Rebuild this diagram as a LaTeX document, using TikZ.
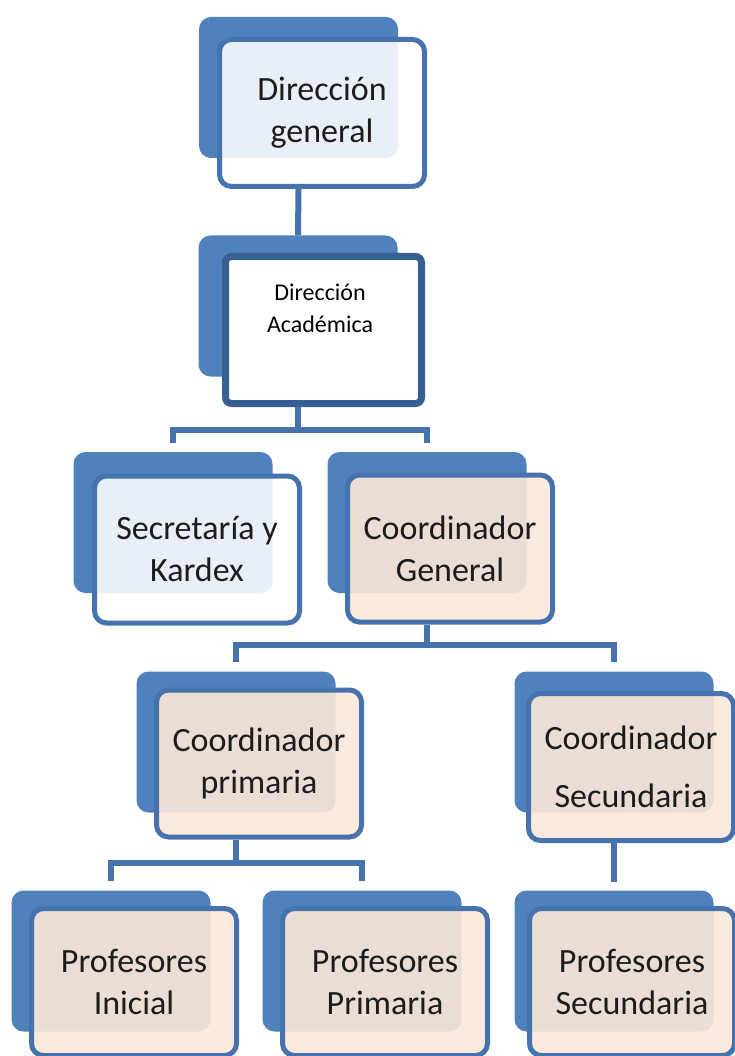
\documentclass[tikz,border=0pt]{standalone}
\usepackage{fontspec}
\setmainfont{Carlito}
\usetikzlibrary{calc}
\definecolor{orgblue}{RGB}{79,129,189}
\definecolor{orgline}{RGB}{70,115,174}
\definecolor{orgdark}{RGB}{54,95,146}
\definecolor{orgpeach}{RGB}{251,232,217}
\definecolor{orgtext}{RGB}{28,28,28}
\newcommand\orgfont{\fontsize{34}{42}\selectfont}
\newcommand\acadfont{\fontsize{24}{32}\selectfont}
\tikzset{
  tab/.style={rectangle,rounded corners=12pt,fill=orgblue,minimum width=199pt,minimum height=141pt,inner sep=0pt},
  front/.style={rectangle,rounded corners=12pt,draw=orgline,line width=5pt,fill=white,fill opacity=0.88,text opacity=1,minimum width=205pt,minimum height=147pt,inner sep=0pt,font=\orgfont,text=orgtext,align=center},
  warm/.style={front,fill=orgpeach,fill opacity=0.9},
  acad/.style={rectangle,rounded corners=6pt,draw=orgdark,line width=7pt,fill=white,minimum width=196pt,minimum height=147pt,inner sep=0pt},
  link/.style={draw=orgline,line width=6pt},
  bus/.style={link,shorten <=9pt,shorten >=9pt},
}
\begin{document}
\begin{tikzpicture}[x=1pt,y=-1pt]
  \useasboundingbox (0,0) rectangle (734,1056);
  % level 1
  \node[tab] (dgt) at (298.5,87.5) {};
  \node[front] (dg) at (322,113) {Dirección\\general};
  % level 2
  \node[tab] (dat) at (298,306) {};
  \node[acad] (da) at (323.5,330) {};
  \node[font=\acadfont,text=black,align=center,anchor=base,inner sep=0pt] (datext) at (320,332) {Dirección\\Académica};
  % level 3
  \node[tab] (skt) at (173,522.5) {};
  \node[front] (sk) at (197,549.5) {Secretaría y\\Kardex};
  \node[tab] (cgt) at (427,522.5) {};
  \node[warm] (cg) at (450,548.5) {Coordinador\\General};
  % level 4
  \node[tab] (cpt) at (236,742) {};
  \node[warm] (cp) at (259,763.5) {Coordinador\\primaria};
  \node[tab] (cst) at (614,742) {};
  \node[warm] (cs) at (631,767) {Coordinador\\[16pt]Secundaria};
  % level 5
  \node[tab] (pit) at (111,961) {};
  \node[warm] (pi) at (134,982) {Profesores\\Inicial};
  \node[tab] (ppt) at (362,961) {};
  \node[warm] (pp) at (385,982) {Profesores\\Primaria};
  \node[tab] (pst) at (614,961) {};
  \node[warm] (ps) at (632,982) {Profesores\\Secundaria};

  \coordinate (bus1) at (0,430);
  \coordinate (bus2) at (0,645);
  \coordinate (bus3) at (0,863);

  \draw[link] (dg.south -| dgt.center) -- (dat.north);
  \draw[link] (da.south -| dat.center) -- (bus1 -| dat.center);
  \draw[bus] (skt.north) |- (bus1 -| cgt.north) -- (cgt.north);
  \draw[link] (cg.south -| cgt.center) -- (bus2 -| cgt.center);
  \draw[bus] (cpt.north) |- (bus2 -| cst.north) -- (cst.north);
  \draw[link] (cp.south -| cpt.center) -- (bus3 -| cpt.center);
  \draw[bus] (pit.north) |- (bus3 -| ppt.north) -- (ppt.north);
  \draw[link,shorten >=8pt] (cs.south -| cst.center) -- (pst.north);
\end{tikzpicture}
\end{document}
